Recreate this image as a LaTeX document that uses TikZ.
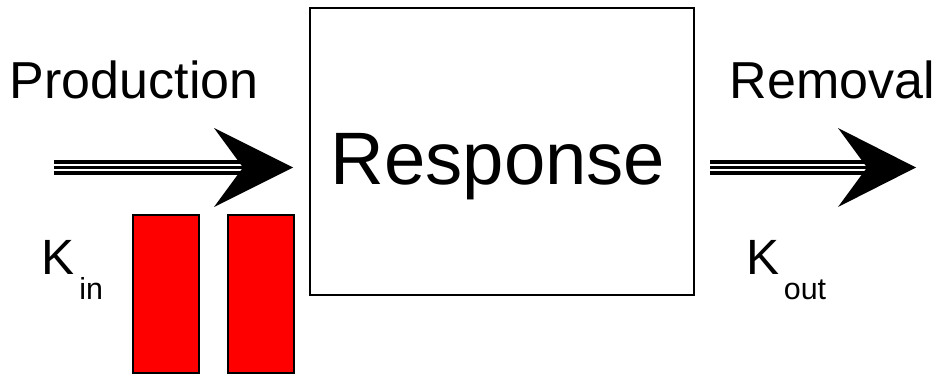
\documentclass[tikz,border=0pt]{standalone}
\usepackage{fontspec}
\setmainfont{Liberation Sans}
\tikzset{
  shaft/.style={preaction={draw=black,line width=0.3cm},draw=white,line width=0.028cm,double=black,double distance=0.074cm},
  arrowhead/.style={fill=black},
  bar/.style={fill=red,draw=black,line width=0.03cm},
  label/.style={anchor=base west,inner sep=0pt,font=\fontsize{29.6}{31}\selectfont}
}
\newcommand{\subfont}{\fontsize{17.3}{18}\selectfont}
\begin{document}
\begin{tikzpicture}[x=0.02cm,y=-0.02cm]
\useasboundingbox (0,0) rectangle (934,375);
% response box
\draw[line width=0.04cm] (310,8) rectangle (694,295);
\node[anchor=base,inner sep=0pt,font=\fontsize{42.3}{44}\selectfont] (resp) at (498,185) {Response};
% production side
\node[label] (prod) at (9.5,99) {Production};
\coordinate (pstart) at (54,167.5);
\coordinate (pnotch) at (243,167.5);
\draw[shaft] (pstart) -- (pnotch);
\fill[arrowhead] (pnotch) -- (214,128) -- (293,167.5) -- (214,207) -- cycle;
\node[label,font=\fontsize{28.2}{30}\selectfont] (kin) at (41.5,275) {K\hspace{0.09cm}\raisebox{-0.5cm}{\subfont in}};
\draw[bar] (133,215) rectangle (199,373);
\draw[bar] (228,215) rectangle (294,373);
% removal side
\node[label] (rem) at (729.5,99) {Removal};
\coordinate (rstart) at (710,167.5);
\coordinate (rnotch) at (867,167.5);
\draw[shaft] (rstart) -- (rnotch);
\fill[arrowhead] (rnotch) -- (838,128) -- (916,167.5) -- (838,207) -- cycle;
\node[label,font=\fontsize{28.2}{30}\selectfont] (kout) at (746.5,275) {K\hspace{0.08cm}\raisebox{-0.5cm}{\subfont out}};
\end{tikzpicture}
\end{document}
